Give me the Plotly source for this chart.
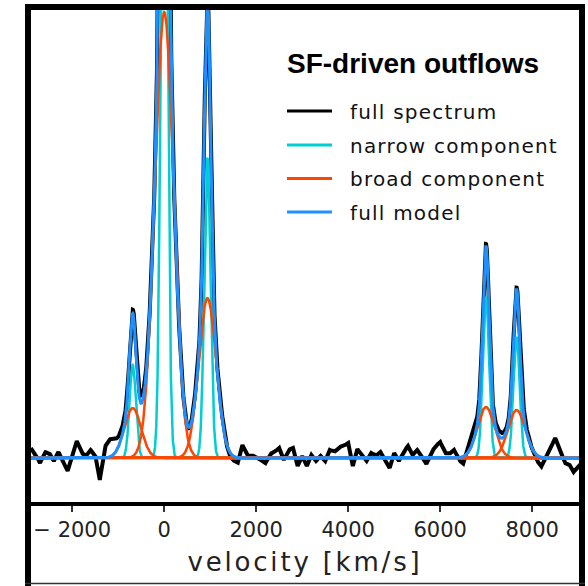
import numpy as np
import plotly.graph_objects as go

# ---------------- data ----------------
# emission-line components (velocity in km/s, amplitudes in arbitrary flux units)
line_names = ["[NII]6548", "Halpha", "[NII]6583", "[SII]6716", "[SII]6731"]
line_center = [-685, 0, 940, 6995, 7660]
narrow_amp = [0.93, 8.0, 3.0, 1.61, 1.21]
narrow_sigma = [68, 68, 68, 68, 68]
broad_amp = [0.50, 4.46, 1.60, 0.51, 0.48]
broad_sigma = [180, 205, 188, 185, 185]

# residual (data - model) on a 100 km/s grid
resid_vel = list(range(-2900, 9101, 100))
resid_flux = [
    0.10, 0.04, -0.05, 0.06, 0.05, -0.03, 0.06, -0.04, -0.13, 0.03,
    0.17, 0.05, 0.02, 0.08, 0.03, -0.22, 0.10, 0.18, 0.16, 0.10,
    0.08, 0.05, 0.03, 0.06, 0.08, 0.05, 0.03, 0.00, 0.00, 0.00,
    0.00, 0.03, 0.04, 0.02, -0.02, 0.02, 0.05, 0.00, 0.00, 0.00,
    0.05, 0.06, 0.04, -0.03, -0.04, -0.05, 0.13, 0.02, 0.03, 0.01,
    -0.02, -0.05, 0.04, 0.06, 0.10, -0.02, 0.08, 0.10, -0.08, 0.02,
    -0.08, 0.03, -0.03, 0.02, -0.03, 0.08, 0.06, 0.11, 0.12, 0.15,
    -0.08, 0.09, 0.02, -0.03, 0.05, 0.02, 0.06, -0.02, -0.10, 0.05,
    -0.03, 0.06, 0.12, 0.03, 0.08, 0.02, -0.06, 0.05, 0.12, 0.16,
    0.05, 0.04, 0.08, -0.02, -0.07, 0.06, 0.10, 0.08, 0.03, 0.02,
    0.00, 0.05, 0.06, 0.04, 0.02, 0.00, 0.02, 0.08, 0.04, 0.00,
    -0.05, -0.09, 0.02, 0.10, 0.20, 0.10, -0.05, -0.06, -0.14, -0.08,
    -0.04,
]

tick_vals = [-2000, 0, 2000, 4000, 6000, 8000]
tick_text = ["\u2212 2000", "0", "2000", "4000", "6000", "8000"]

legend_labels = ["full spectrum", "narrow component", "broad component", "full model"]
legend_title = "SF-driven outflows"
x_title = "velocity [km/s]"

# ---------------- build curves ----------------
v = np.linspace(-2900, 9100, 6001)


def gauss(a, c, s):
    return a * np.exp(-0.5 * ((v - c) / s) ** 2)


narrow = [gauss(a, c, s) for a, c, s in zip(narrow_amp, line_center, narrow_sigma)]
broad = [gauss(a, c, s) for a, c, s in zip(broad_amp, line_center, broad_sigma)]
model = np.sum(narrow, axis=0) + np.sum(broad, axis=0)
spectrum = model + np.interp(v, resid_vel, resid_flux)

C_BLACK = "#000000"
C_NARROW = "#00CED1"
C_BROAD = "#FF4500"
C_MODEL = "#1E90FF"

fig = go.Figure()
fig.add_trace(go.Scatter(x=v, y=spectrum, mode="lines",
                         line=dict(color=C_BLACK, width=4), showlegend=False))
for n in narrow:
    fig.add_trace(go.Scatter(x=v, y=n, mode="lines",
                             line=dict(color=C_NARROW, width=2.5), showlegend=False))
for b in broad:
    fig.add_trace(go.Scatter(x=v, y=b, mode="lines",
                             line=dict(color=C_BROAD, width=2.5), showlegend=False))
fig.add_trace(go.Scatter(x=v, y=model, mode="lines",
                         line=dict(color=C_MODEL, width=3), showlegend=False))

# ---------------- layout ----------------
W, H = 588, 586
L, R, T, B = 31, 579, 10, 502  # plot area in pixels


def px(xp):
    return (xp - L) / (R - L)


def py(yp):
    return (B - yp) / (B - T)


shapes = []
# outer frame
shapes.append(dict(type="line", xref="paper", yref="paper", x0=px(28), x1=px(28),
                   y0=py(4), y1=py(590), line=dict(color="black", width=6)))
shapes.append(dict(type="line", xref="paper", yref="paper", x0=px(582), x1=px(582),
                   y0=py(4), y1=py(590), line=dict(color="black", width=6)))
shapes.append(dict(type="line", xref="paper", yref="paper", x0=px(25), x1=px(585),
                   y0=py(7), y1=py(7), line=dict(color="black", width=6)))
shapes.append(dict(type="line", xref="paper", yref="paper", x0=px(25), x1=px(585),
                   y0=py(583.5), y1=py(583.5), line=dict(color="#333333", width=1.5)))

annotations = []
annotations.append(dict(xref="paper", yref="paper", x=px(285), y=py(64),
                        xanchor="left", yanchor="middle", showarrow=False,
                        text="<b>%s</b>" % legend_title,
                        font=dict(family="Liberation Sans", size=28, color="black")))
leg_colors = [C_BLACK, C_NARROW, C_BROAD, C_MODEL]
leg_y = [111, 145, 178.5, 212]
for lab, col, yy in zip(legend_labels, leg_colors, leg_y):
    shapes.append(dict(type="line", xref="paper", yref="paper", x0=px(287), x1=px(332),
                       y0=py(yy), y1=py(yy), line=dict(color=col, width=3)))
    annotations.append(dict(xref="paper", yref="paper", x=px(348), y=py(yy + 0.5),
                            xanchor="left", yanchor="middle", showarrow=False,
                            text='<span style="letter-spacing:1.2px">%s</span>' % lab,
                            font=dict(family="DejaVu Sans", size=20, color="#111111")))

fig.update_layout(
    width=W, height=H,
    margin=dict(l=L, r=W - R, t=T, b=H - B),
    paper_bgcolor="white", plot_bgcolor="white",
    showlegend=False,
    shapes=shapes, annotations=annotations,
    xaxis=dict(range=[-2896, 9017], showgrid=False, zeroline=False,
               showline=True, linewidth=4, linecolor="black",
               ticks="outside", ticklen=6, tickwidth=2, tickcolor="#333333",
               tickvals=tick_vals, ticktext=tick_text,
               tickfont=dict(family="DejaVu Sans", size=21, color="#222222"),
               title=dict(text='<span style="letter-spacing:2.8px">%s</span>' % x_title,
                          font=dict(family="DejaVu Sans", size=26, color="#222222"),
                          standoff=13)),
    yaxis=dict(range=[-0.44, 4.48], visible=False, showgrid=False, zeroline=False),
)

fig.write_html("out.html")
